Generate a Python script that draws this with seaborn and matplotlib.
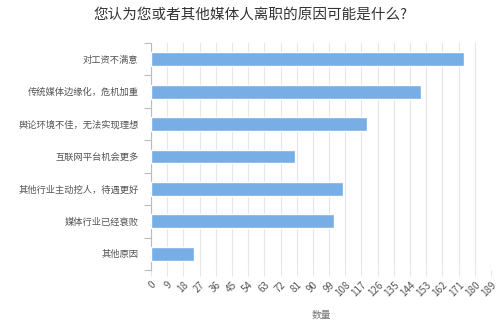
import matplotlib
matplotlib.use("Agg")
import matplotlib.pyplot as plt
import seaborn as sns
import pandas as pd
import numpy as np

categories = ["对工资不满意", "传统媒体边缘化，危机加重", "舆论环境不佳，无法实现理想",
              "互联网平台机会更多", "其他行业主动挖人，待遇更好", "媒体行业已经衰败", "其他原因"]
values = [174, 150, 120, 80, 107, 102, 24]
xticks = list(range(0, 190, 9))
title = "您认为您或者其他媒体人离职的原因可能是什么?"
xlabel = "数量"

sns.set_theme(style="white")
plt.rcParams['font.family'] = ['Noto Sans CJK SC', 'DejaVu Sans']

df = pd.DataFrame({"cat": categories, "val": values})

fig = plt.figure(figsize=(5, 3.33), dpi=100)
ax = fig.add_axes([0.302, 0.189, 0.68, 0.682])
sns.barplot(data=df, y="cat", x="val", orient="h", color="#78AEE6", width=0.43,
            saturation=1, ax=ax, zorder=3)
ax.set_xlim(0, 189)
ax.set_xticks(xticks)
ax.set_xticklabels([str(t) for t in xticks], rotation=45, ha="right",
                   rotation_mode="anchor", fontsize=7, color="#555555")
ax.tick_params(axis="x", length=4, color="#e6e6e6", width=0.8, pad=3, bottom=True)
ax.xaxis.grid(True, color="#e6e6e6", linewidth=0.8, zorder=0)
ax.yaxis.grid(False)
ax.set_ylim(len(categories) - 0.5, -0.5)
ax.set_yticks(np.arange(len(categories)))
ax.set_yticklabels(categories, fontsize=6.7, color="#555555")
ax.tick_params(axis="y", length=0, pad=9)
# category boundary ticks
ax.set_yticks(np.arange(len(categories) + 1) - 0.5, minor=True)
ax.tick_params(axis="y", which="minor", length=5, color="#bbbbbb", width=0.8, left=True)
for s in ["top", "right", "bottom"]:
    ax.spines[s].set_visible(False)
ax.spines["left"].set_color("#bbbbbb")
ax.spines["left"].set_linewidth(0.8)
ax.set_ylabel("")
ax.set_xlabel(xlabel, fontsize=7, color="#777777", labelpad=8)
fig.text(0.5, 0.955, title, ha="center", va="center", fontsize=10.5, color="#333333")
fig.savefig("out.png", dpi=100, facecolor="white")
